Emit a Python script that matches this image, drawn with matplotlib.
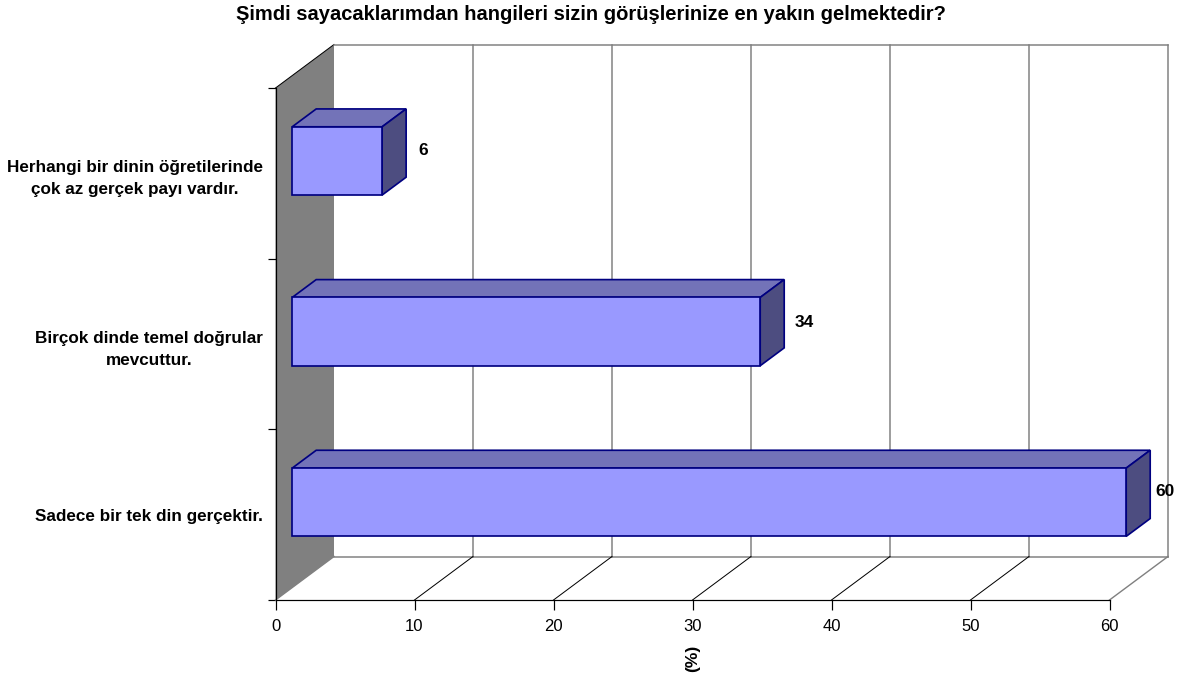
import matplotlib
matplotlib.use('Agg')
import matplotlib.pyplot as plt
from matplotlib.patches import Polygon

plt.rcParams['font.family'] = ['Liberation Sans', 'DejaVu Sans']

categories = ['Herhangi bir dinin öğretilerinde\nçok az gerçek payı vardır.',
              'Birçok dinde temel doğrular\nmevcuttur.',
              'Sadece bir tek din gerçektir.']
values = [6.47, 33.67, 60.0]
value_labels = ['6', '34', '60']
x_ticks = [0, 10, 20, 30, 40, 50, 60]

title = 'Şimdi sayacaklarımdan hangileri sizin görüşlerinize en yakın gelmektedir?'
x_label = '(%)'

# pixel layout of the front plane of the 3d box
W, H = 1189, 681
left_px, right_px, top_px, bottom_px = 275.5, 1109.5, 88, 600
depth_px_x, depth_px_y = 58.5, 43.5
px_per_x = (right_px - left_px) / 60
px_per_y = (bottom_px - top_px) / 3
DX = depth_px_x / px_per_x
DY = -depth_px_y / px_per_y

FRONT = '#9999ff'
TOP = '#7373b8'
SIDE = '#4d4d80'
EDGE = '#000080'
GRID = '#808080'
BLACK = '#000000'
PX = 0.72


def project(x, y, d):
    return x + d * DX, y + d * DY


fig = plt.figure(figsize=(W / 100, H / 100), dpi=100)
ax = fig.add_axes([left_px / W, 1 - bottom_px / H, (right_px - left_px) / W, (bottom_px - top_px) / H])
ax.set_xlim(0, 60)
ax.set_ylim(3, 0)
ax.patch.set_visible(False)

# left wall
wall = [project(0, 0, 0), project(0, 0, 1), project(0, 3, 1), project(0, 3, 0)]
ax.add_patch(Polygon(wall, closed=True, facecolor=GRID, edgecolor='none', clip_on=False, zorder=1))
ax.plot(*zip(project(0, 0, 0), project(0, 0, 1)), color=BLACK, lw=PX, clip_on=False, zorder=2)

# back wall grid and frame
for t in x_ticks[1:]:
    ax.plot(*zip(project(t, 0, 1), project(t, 3, 1)), color=GRID, lw=1.5 * PX, clip_on=False, zorder=2)
ax.plot(*zip(project(0, 0, 1), project(60, 0, 1)), color=GRID, lw=1.5 * PX, clip_on=False, zorder=2)
ax.plot(*zip(project(0, 3, 1), project(60, 3, 1)), color=GRID, lw=1.5 * PX, clip_on=False, zorder=2)

# floor lines
for t in x_ticks:
    color = BLACK if 0 < t < 60 else GRID
    width = PX if 0 < t < 60 else 1.4 * PX
    ax.plot(*zip(project(t, 3, 0), project(t, 3, 1)), color=color, lw=width, clip_on=False, zorder=2)

# bars
bar_d0 = 16.7 / depth_px_x
bar_d1 = 40.7 / depth_px_x
bar_h = 0.4
centers = [0.5, 1.5, 2.5]
start = bar_d0 * DX
for c, v in zip(centers, values):
    yc = c + bar_d0 * DY
    y0, y1 = yc - bar_h / 2, yc + bar_h / 2
    shift = (bar_d1 - bar_d0)
    xr = start + v
    top_face = [(start, y0), (xr, y0), (xr + shift * DX, y0 + shift * DY), (start + shift * DX, y0 + shift * DY)]
    side_face = [(xr, y0), (xr + shift * DX, y0 + shift * DY), (xr + shift * DX, y1 + shift * DY), (xr, y1)]
    ax.add_patch(Polygon(top_face, closed=True, facecolor=TOP, edgecolor=EDGE, lw=1.7 * PX, clip_on=False, zorder=3))
    ax.add_patch(Polygon(side_face, closed=True, facecolor=SIDE, edgecolor=EDGE, lw=1.7 * PX, clip_on=False, zorder=3))
    ax.barh(yc, v, height=bar_h, left=start, color=FRONT, edgecolor=EDGE, linewidth=1.7 * PX, zorder=4, clip_on=False)

# value labels
label_offset = [41, 44, 38.5]
label_rise = [-2, -3, -1]
for c, v, s, off, rise in zip(centers, values, value_labels, label_offset, label_rise):
    ax.annotate(s, xy=(start + v, c + bar_d0 * DY), xytext=(off * 0.72, (12 + rise) * 0.72),
                textcoords='offset points', ha='center', va='center',
                fontsize=12.5, fontweight='bold', zorder=5, annotation_clip=False)

# axes
for side in ['top', 'right']:
    ax.spines[side].set_visible(False)
for side in ['left', 'bottom']:
    ax.spines[side].set_linewidth(1.2 * PX)
    ax.spines[side].set_zorder(6)

ax.set_xticks(x_ticks)
ax.tick_params(axis='x', length=7.2, width=1.2 * PX, labelsize=12, pad=6.6)
ax.set_yticks([0, 1, 2, 3])
ax.set_yticklabels([])
ax.tick_params(axis='y', which='major', length=6, width=1.2 * PX)
ax.set_yticks(centers, minor=True)
ax.set_yticklabels(categories, minor=True, fontsize=12.3, fontweight='bold', multialignment='center', linespacing=1.6)
ax.tick_params(axis='y', which='minor', length=0, pad=9)

fig.text(591 / W, 1 - 14 / H, title, ha='center', va='center', fontsize=14.5, fontweight='bold')
fig.text(693 / W, 1 - 658.5 / H, x_label, ha='center', va='center', rotation=90, fontsize=12.5, fontweight='bold')

fig.savefig('out.png', dpi=100)
